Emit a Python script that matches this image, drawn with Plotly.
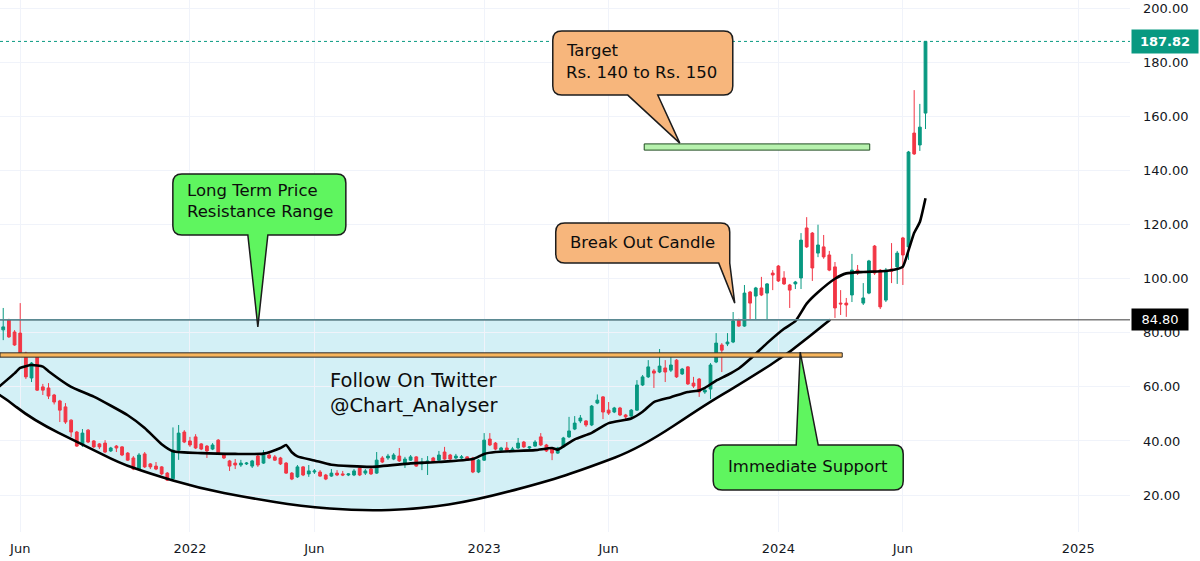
import math
import pandas as pd
import plotly.graph_objects as go

# ---------------- data ----------------
start_week = "2021-05-10"   # weekly candles
opens = [78.0, 81.1, 84.8, 80.3, 79.9, 72.5, 63.3, 71.8, 60.0, 59.6,
         57.0, 54.8, 52.6, 47.7, 43.3, 38.5, 44.0, 40.0, 38.9, 39.2,
         36.3, 38.1, 37.8, 35.5, 33.7, 29.6, 35.2, 31.5, 30.7, 30.4,
         28.1, 26.0, 36.6, 43.3, 40.0, 41.5, 38.9, 38.1, 37.0, 40.3,
         35.2, 32.6, 31.8, 31.1, 31.5, 30.7, 34.4, 31.8, 34.8, 34.1,
         33.7, 31.8, 28.1, 26.7, 30.4, 27.8, 28.5, 28.5, 27.4, 27.0,
         28.1, 27.8, 27.4, 27.4, 30.0, 28.1, 29.6, 28.1, 33.7, 33.7,
         33.3, 34.4, 31.8, 32.9, 34.1, 31.5, 31.8, 33.7, 32.9, 35.9,
         34.8, 33.7, 33.7, 34.1, 33.7, 28.5, 32.9, 40.7, 39.2, 36.6,
         37.4, 36.6, 37.4, 39.6, 37.4, 38.1, 41.5, 38.5, 37.0, 35.5,
         37.8, 41.5, 44.4, 47.4, 47.4, 45.9, 54.0, 56.3, 51.4, 50.7,
         52.2, 49.6, 49.2, 51.4, 60.7, 63.7, 65.9, 65.5, 67.0, 66.2,
         69.9, 64.8, 67.4, 61.4, 62.9, 58.1, 59.2, 69.2, 75.5, 75.9,
         76.6, 84.8, 82.5, 95.1, 93.6, 96.6, 94.7, 102.1, 104.7, 100.3,
         97.7, 98.1, 100.3, 118.8, 116.9, 109.5, 111.8, 108.8, 104.4, 91.0,
         91.0, 94.0, 103.2, 91.0, 94.7, 112.1, 103.2, 92.1, 103.6, 104.4,
         115.1, 111.8, 153.9, 149.5, 161.3]
highs = [80.5, 89.2, 85.2, 81.0, 91.0, 73.0, 69.2, 72.2, 61.1, 61.4,
         57.4, 55.2, 54.0, 48.0, 43.7, 44.4, 44.4, 40.3, 39.2, 40.3,
         37.8, 38.5, 38.1, 35.9, 34.4, 35.5, 35.9, 31.8, 32.2, 30.7,
         28.5, 45.0, 45.9, 44.0, 41.5, 42.5, 39.2, 38.5, 39.2, 40.7,
         35.5, 33.0, 33.3, 33.0, 32.2, 33.0, 35.2, 36.6, 35.9, 34.8,
         34.1, 32.2, 28.5, 31.1, 30.7, 31.1, 29.6, 29.2, 27.8, 29.6,
         29.2, 28.9, 28.1, 29.6, 30.4, 29.6, 30.0, 35.9, 34.4, 35.2,
         35.5, 37.4, 34.1, 34.8, 34.4, 33.7, 34.4, 34.1, 36.3, 37.8,
         35.2, 35.2, 34.8, 34.4, 34.1, 33.3, 42.9, 42.9, 39.6, 37.8,
         39.6, 37.8, 41.1, 40.0, 38.1, 40.3, 42.9, 38.9, 37.4, 37.8,
         41.5, 48.9, 49.2, 49.6, 47.7, 53.3, 57.2, 56.6, 54.4, 52.6,
         52.6, 50.0, 51.8, 62.5, 64.4, 69.9, 66.6, 74.0, 69.9, 71.8,
         70.3, 67.0, 67.7, 63.7, 63.3, 59.6, 68.8, 79.9, 76.2, 79.9,
         87.7, 85.2, 97.7, 95.5, 97.0, 100.7, 98.4, 103.2, 105.1, 102.8,
         98.1, 99.2, 116.9, 122.8, 117.3, 120.0, 116.2, 110.3, 106.2, 95.8,
         92.9, 109.2, 105.1, 98.4, 107.0, 112.5, 103.6, 104.0, 113.2, 110.3,
         115.5, 147.3, 169.8, 164.7, 187.82]
lows = [77.0, 77.3, 78.1, 75.2, 71.5, 62.9, 61.8, 58.5, 57.0, 55.5,
        53.5, 47.0, 46.3, 41.5, 37.8, 37.8, 39.2, 37.4, 37.0, 35.5,
        35.9, 35.9, 34.4, 32.6, 29.2, 29.2, 30.0, 29.6, 29.2, 27.4,
        25.2, 25.5, 33.0, 39.2, 37.8, 37.0, 36.6, 33.7, 36.6, 35.2,
        33.3, 28.9, 29.6, 30.4, 31.1, 30.0, 30.4, 31.5, 33.3, 32.6,
        31.1, 27.8, 25.5, 26.3, 27.0, 26.7, 27.8, 26.7, 25.5, 26.7,
        27.0, 27.0, 27.0, 27.0, 27.0, 27.4, 27.4, 27.8, 31.8, 33.0,
        32.9, 32.2, 30.0, 32.6, 30.4, 29.2, 27.4, 31.8, 32.6, 33.0,
        32.9, 33.3, 33.3, 32.6, 28.1, 28.1, 32.6, 38.1, 36.6, 36.3,
        35.9, 36.3, 37.0, 37.4, 37.0, 37.8, 38.1, 35.9, 32.9, 35.2,
        37.4, 41.1, 44.0, 46.6, 45.2, 45.5, 53.6, 48.1, 49.6, 50.3,
        49.2, 48.1, 48.9, 51.1, 60.3, 63.3, 59.6, 65.1, 61.8, 65.5,
        63.3, 64.4, 60.7, 59.6, 56.3, 57.4, 55.5, 68.8, 65.5, 75.1,
        76.2, 82.2, 82.2, 84.8, 84.8, 93.6, 84.8, 95.8, 98.8, 97.7,
        89.2, 96.2, 96.2, 111.4, 99.2, 108.0, 107.4, 102.8, 85.5, 86.6,
        85.9, 91.4, 101.4, 90.3, 94.3, 101.4, 88.8, 91.4, 98.4, 98.1,
        97.7, 107.0, 145.8, 147.3, 155.4]
closes = [79.5, 82.2, 78.5, 75.5, 71.8, 63.7, 68.8, 58.8, 58.8, 56.6,
          54.4, 51.4, 47.0, 43.3, 38.1, 42.9, 39.6, 37.8, 37.8, 35.9,
          37.4, 37.4, 34.8, 32.9, 29.6, 34.8, 30.4, 30.4, 29.6, 27.8,
          25.5, 36.6, 42.9, 39.6, 38.5, 37.4, 37.0, 36.3, 38.5, 35.5,
          33.7, 30.7, 31.1, 31.8, 31.8, 32.6, 31.1, 35.5, 33.7, 32.9,
          31.5, 28.1, 25.9, 30.4, 27.4, 28.9, 28.9, 27.0, 25.9, 28.1,
          27.4, 27.4, 27.8, 28.9, 27.4, 28.9, 27.8, 32.9, 32.2, 34.4,
          34.8, 32.6, 33.3, 34.1, 30.7, 32.2, 32.6, 32.2, 34.8, 33.3,
          33.3, 34.4, 34.1, 32.9, 28.5, 32.9, 40.3, 38.5, 37.0, 37.4,
          36.6, 37.0, 39.2, 37.8, 37.8, 39.6, 38.5, 36.3, 35.5, 37.4,
          41.1, 43.7, 46.6, 48.5, 45.9, 52.9, 55.1, 50.7, 50.3, 52.2,
          49.6, 48.9, 51.4, 60.7, 63.7, 67.4, 65.1, 67.7, 65.5, 68.1,
          63.7, 66.6, 61.1, 60.3, 58.1, 58.8, 68.1, 76.2, 73.6, 76.6,
          84.4, 82.5, 94.7, 91.0, 96.6, 94.0, 98.1, 101.4, 99.2, 98.1,
          95.8, 98.8, 114.3, 111.8, 104.0, 112.5, 108.1, 103.2, 89.2, 90.7,
          90.3, 103.2, 102.1, 92.9, 106.6, 102.1, 89.6, 103.2, 102.8, 109.5,
          108.8, 146.9, 146.2, 156.1, 187.82]

# black moving-average line, read at candle indices
ma_idx = [0, 3, 4, 6, 8, 9, 13, 17, 23, 26, 29, 31, 36, 42, 47, 50, 51, 52, 53,
          56, 59, 66, 73, 78, 84, 86, 88, 95, 98, 99, 102, 105, 108, 112, 114,
          116, 119, 122, 124, 125, 127, 129, 131, 133, 136, 139, 141, 143, 145,
          148, 150, 153, 157, 159, 160, 161, 162, 163, 164]
ma_vals = [59.6, 65.0, 67.0, 68.1, 67.5, 65.8, 60.0, 56.4, 49.5, 44.8, 38.8,
           36.2, 35.5, 35.2, 35.3, 37.4, 38.5, 35.8, 34.3, 32.8, 31.2, 30.4,
           31.7, 32.2, 33.3, 35.2, 35.9, 36.6, 37.4, 36.8, 40.6, 43.0, 46.6,
           48.3, 50.8, 54.4, 56.2, 58.1, 58.7, 59.6, 62.3, 64.4, 66.8, 70.3,
           76.2, 81.5, 84.3, 90.8, 95.0, 100.0, 102.0, 102.5, 102.9, 103.6,
           104.5, 110.5, 117.0, 121.0, 129.8]

# cup-shaped drawing (lower arc) and levels
cup_dates = ["2021-04-06", "2021-05-13", "2021-06-23", "2021-08-24", "2021-10-08",
             "2021-11-12", "2022-01-13", "2022-03-18", "2022-05-19", "2022-08-01",
             "2022-10-15", "2022-12-24", "2023-03-27", "2023-05-13", "2023-07-14",
             "2023-10-05", "2023-11-27", "2024-01-16", "2024-03-05"]
cup_vals = [62.0, 57.5, 47.7, 38.5, 31.8, 28.1, 22.6, 18.9, 15.9, 14.1,
            14.8, 18.1, 25.5, 30.4, 37.4, 54.0, 63.3, 72.9, 84.8]
support_level = 84.80
support_band = [71.0, 72.6]
target_band = [147.6, 149.9]
price_ticks = [20, 40, 60, 80, 100, 120, 140, 160, 180, 200]
time_tick_dates = ["2021-06-07", "2022-01-03", "2022-06-06", "2023-01-02",
                   "2023-06-05", "2024-01-01", "2024-06-03", "2025-01-06"]
time_tick_labels = ["Jun", "2022", "Jun", "2023", "Jun", "2024", "Jun", "2025"]

# ---------------- figure ----------------
dates = pd.date_range(start_week, periods=len(closes), freq="7D")
X0, X1 = "2021-05-13", "2025-03-11"
FONT = "DejaVu Sans"
UP, DOWN = "#089981", "#f23645"

fig = go.Figure()

fig.add_trace(go.Candlestick(
    x=dates, open=opens, high=highs, low=lows, close=closes,
    increasing=dict(line=dict(color=UP, width=1), fillcolor=UP),
    decreasing=dict(line=dict(color=DOWN, width=1), fillcolor=DOWN),
    whiskerwidth=0, showlegend=False, hoverinfo="skip"))

fig.add_trace(go.Scatter(
    x=[dates[i] for i in ma_idx], y=ma_vals, mode="lines",
    line=dict(color="#000000", width=2.6, shape="spline", smoothing=0.5),
    hoverinfo="skip", showlegend=False))

shapes = []

# smooth cup arc (quadratic B-spline through midpoints) in data coordinates
cup_t = [pd.Timestamp(d) for d in cup_dates]


def dstr(t):
    return t.strftime("%Y-%m-%d")


def mid(i):
    t = cup_t[i] + (cup_t[i + 1] - cup_t[i]) / 2
    return dstr(t.round("D")), (cup_vals[i] + cup_vals[i + 1]) / 2


arc = f"M{dstr(cup_t[0])},{cup_vals[0]:.2f}"
m = mid(0)
arc += f" L{m[0]},{m[1]:.2f}"
for i in range(1, len(cup_t) - 1):
    m = mid(i)
    arc += f" Q{dstr(cup_t[i])},{cup_vals[i]:.2f} {m[0]},{m[1]:.2f}"
arc += f" L{dstr(cup_t[-1])},{cup_vals[-1]:.2f}"

shapes.append(dict(type="path", xref="x", yref="y", layer="below",
                   path=arc + f" L{dstr(cup_t[0])},{support_level:.2f} Z",
                   fillcolor="#d3f0f6", line=dict(width=0)))
shapes.append(dict(type="path", xref="x", yref="y", layer="above",
                   path=arc, fillcolor="rgba(0,0,0,0)",
                   line=dict(color="#000000", width=2.6)))

# horizontal level line
shapes.append(dict(type="line", xref="paper", x0=0, x1=1, yref="y",
                   y0=support_level, y1=support_level,
                   line=dict(color="#3a3a3a", width=1)))
# top edge of the cup drawing
shapes.append(dict(type="line", xref="x", x0=X0, x1=cup_dates[-1], yref="y",
                   y0=support_level, y1=support_level,
                   line=dict(color="#5b8a93", width=1.5)))
# last price dotted line
shapes.append(dict(type="line", xref="paper", x0=0, x1=1, yref="y",
                   y0=closes[-1], y1=closes[-1],
                   line=dict(color=UP, width=1, dash="dot")))
# immediate support band (orange)
shapes.append(dict(type="rect", xref="x", yref="y", x0=X0, x1="2024-03-20",
                   y0=support_band[0], y1=support_band[1],
                   fillcolor="#f7b55c", line=dict(color="#2b2b2b", width=1)))
# target band (green)
shapes.append(dict(type="rect", xref="x", yref="y", x0="2023-07-19", x1="2024-04-23",
                   y0=target_band[0], y1=target_band[1],
                   fillcolor="#b7f2ae", line=dict(color="#1f4d1f", width=1)))


def rpath(pts, r=9):
    n = len(pts)
    out = []
    for i, (x, y, rd) in enumerate(pts):
        if rd:
            px, py = pts[i - 1][0], pts[i - 1][1]
            nx, ny = pts[(i + 1) % n][0], pts[(i + 1) % n][1]
            d1 = math.hypot(px - x, py - y)
            d2 = math.hypot(nx - x, ny - y)
            ax_, ay_ = x + (px - x) * r / d1, y + (py - y) * r / d1
            bx_, by_ = x + (nx - x) * r / d2, y + (ny - y) * r / d2
            out.append(f"L{ax_:.1f},{ay_:.1f} Q{x:.1f},{y:.1f} {bx_:.1f},{by_:.1f}")
        else:
            out.append(f"L{x:.1f},{y:.1f}")
    s = " ".join(out)
    return "M" + s[1:] + " Z"


def bubble(tip_x, tip_y, pts, fill):
    shapes.append(dict(type="path", xref="x", yref="y",
                       xsizemode="pixel", ysizemode="pixel",
                       xanchor=tip_x, yanchor=tip_y, path=rpath(pts),
                       fillcolor=fill, line=dict(color="#1c1c1c", width=1.5)))


GREEN_B, ORANGE_B = "#5ff55f", "#f7b67c"
T = True
F = False
tips = {
    "res": ("2022-03-28", 82.2),
    "tgt": ("2023-09-01", 150.2),
    "brk": ("2023-11-08", 91.0),
    "sup": ("2024-01-28", 72.9),
}
bubble(*tips["res"], [(-85, 153, T), (88, 153, T), (88, 92, T), (10, 92, F), (0, 0, F),
                      (-10, 92, F), (-85, 92, T)], GREEN_B)
bubble(*tips["tgt"], [(-127, 112, T), (53, 112, T), (53, 48, T), (-22, 48, F), (0, 0, F),
                      (-52, 48, F), (-127, 48, T)], ORANGE_B)
bubble(*tips["brk"], [(-179, 80, T), (-5, 80, T), (-5, 40, F), (0, 0, F), (-16, 40, F),
                      (-179, 40, T)], ORANGE_B)
bubble(*tips["sup"], [(-87, -93, T), (-4, -93, F), (0, 0, F), (18, -93, F), (103, -93, T),
                      (103, -138, T), (-87, -138, T)], GREEN_B)

annotations = []


def txt(tip, text, dx, dy, anchor="left", size=16.5, align="left"):
    annotations.append(dict(x=tip[0], y=tip[1], xref="x", yref="y", text=text,
                            showarrow=False, xanchor=anchor, yanchor="middle",
                            xshift=dx, yshift=dy, align=align,
                            font=dict(family=FONT, size=size, color="#0d0d0d")))


txt(tips["res"], "Long Term Price", -73, 136)
txt(tips["res"], "Resistance Range", -73, 115)
txt(tips["tgt"], "Target", -116, 93)
txt(tips["tgt"], "Rs. 140 to Rs. 150", -116, 71)
txt(tips["brk"], "Break Out Candle", -92, 61, anchor="center")
txt(tips["sup"], "Immediate Support", 8, -114, anchor="center")
txt(("2022-06-25", 57.8), "Follow On Twitter<br>@Chart_Analyser", -2, 0, size=19.5)

# price labels on the axis
annotations.append(dict(xref="paper", x=1, yref="y", y=closes[-1], text=f"<b>{closes[-1]:.2f}</b>",
                        showarrow=False, xanchor="left", yanchor="middle", xshift=1,
                        bgcolor=UP, borderpad=4, width=58,
                        font=dict(family=FONT, size=13, color="#ffffff")))
annotations.append(dict(xref="paper", x=1, yref="y", y=support_level, text=f"{support_level:.2f}",
                        showarrow=False, xanchor="left", yanchor="middle", xshift=1,
                        bgcolor="#000000", borderpad=3, width=50,
                        font=dict(family=FONT, size=13, color="#ffffff")))

fig.update_layout(
    width=1200, height=561,
    margin=dict(l=0, r=70, t=0, b=29),
    paper_bgcolor="#ffffff", plot_bgcolor="#ffffff",
    shapes=shapes, annotations=annotations,
    showlegend=False,
    xaxis=dict(type="date", range=[X0, X1], rangeslider=dict(visible=False),
               tickvals=time_tick_dates, ticktext=time_tick_labels,
               showgrid=True, gridcolor="#f0f3fa", gridwidth=1,
               zeroline=False, showline=False, ticks="",
               ticklabelstandoff=7,
               tickfont=dict(family=FONT, size=13, color="#131722")),
    yaxis=dict(side="right", range=[6.31, 203.14], tickvals=price_ticks,
               tickformat=".2f", showgrid=True, gridcolor="#f0f3fa",
               zeroline=False, showline=False, ticks="",
               ticklabelstandoff=12,
               tickfont=dict(family=FONT, size=13, color="#131722")),
)

fig.write_html("out.html")
